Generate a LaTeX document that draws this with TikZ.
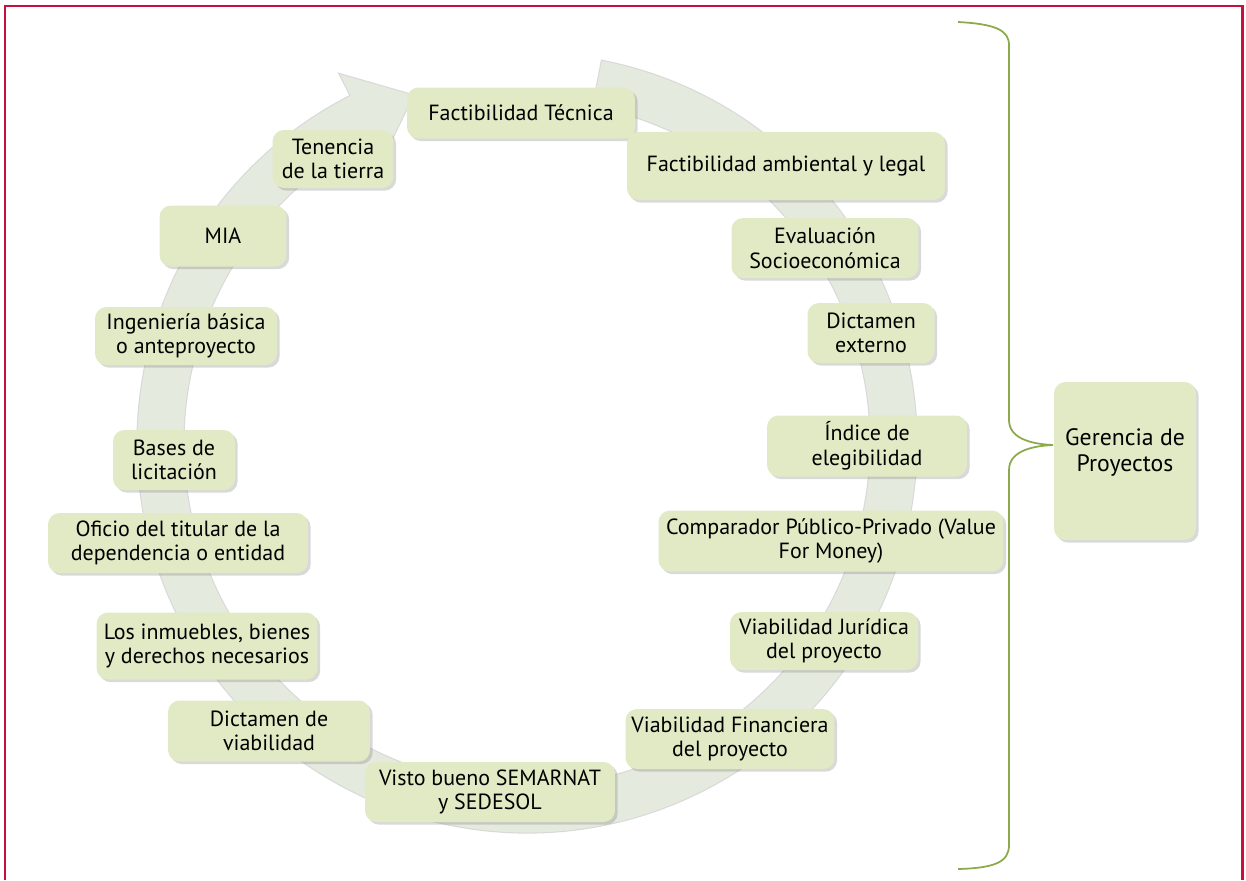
\documentclass[tikz,border=0pt]{standalone}
\usepackage{fontspec}
\setmainfont{PT Sans}
\usetikzlibrary{shadows}
\definecolor{framered}{RGB}{200,16,62}
\definecolor{stagegreen}{RGB}{225,234,196}
\definecolor{ringgray}{RGB}{229,234,222}
\definecolor{bracegreen}{RGB}{140,170,75}

\begin{document}
\begin{tikzpicture}[x=0.02cm, y=-0.02cm,
  stage/.style={rectangle, rounded corners=6.5pt, fill=stagegreen, inner sep=0pt, align=center,
    font=\fontsize{12.5}{14}\selectfont, drop shadow={shadow xshift=1.5pt, shadow yshift=-1.5pt, opacity=0.3}},
  ring/.style={fill=ringgray, draw=gray!30, line width=0.6pt},
  brace/.style={draw=bracegreen, line width=1pt},
  frame/.style={draw=framered, line width=1.7pt}
]
  \useasboundingbox (0,0) rectangle (1246,880);
  \draw[frame] (5,880) -- (5,6) -- (1242,6) -- (1242,880);

  \begin{scope}[shift={(527,443)}, yscale=-1]
    \path[ring] (79:390) arc[start angle=79, end angle=-243, radius=390] -- (-243:415) -- (-252:366)
      -- (-243:318) -- (-243:343) arc[start angle=-243, end angle=79, radius=343] -- cycle;
  \end{scope}

  \node[stage, minimum width=4.56cm, minimum height=1.02cm] (tecnica) at (521,113) {Factibilidad Técnica};
  \node[stage, minimum width=6.36cm, minimum height=1.36cm] (ambiental) at (786,166) {Factibilidad ambiental y legal};
  \node[stage, minimum width=3.74cm, minimum height=1.2cm] (evaluacion) at (825,248) {Evaluación\\Socioeconómica};
  \node[stage, minimum width=2.54cm, minimum height=1.2cm] (externo) at (871,333) {Dictamen\\externo};
  \node[stage, minimum width=4cm, minimum height=1.22cm] (indice) at (867,446) {Índice de\\elegibilidad};
  \node[stage, minimum width=6.9cm, minimum height=1.22cm] (comparador) at (831,541) {Comparador Público-Privado (Value\\For Money)};
  \node[stage, minimum width=3.76cm, minimum height=1.16cm] (juridica) at (824,641) {Viabilidad Jurídica\\del proyecto};
  \node[stage, minimum width=4.18cm, minimum height=1.2cm] (financiera) at (730,739) {Viabilidad Financiera\\del proyecto};
  \node[stage, minimum width=5cm, minimum height=1.2cm] (visto) at (490,792) {Visto bueno SEMARNAT\\y SEDESOL};
  \node[stage, minimum width=4.04cm, minimum height=1.22cm] (viabilidad) at (269,731) {Dictamen de\\viabilidad};
  \node[stage, minimum width=4.42cm, minimum height=1.34cm] (inmuebles) at (207,646) {Los inmuebles, bienes\\y derechos necesarios};
  \node[stage, minimum width=5.2cm, minimum height=1.2cm] (oficio) at (178,543) {Oficio del titular de la\\dependencia o entidad};
  \node[stage, minimum width=2.44cm, minimum height=1.2cm] (bases) at (174,460) {Bases de\\licitación};
  \node[stage, minimum width=3.64cm, minimum height=1.16cm] (ingenieria) at (186,336) {Ingeniería básica\\o anteproyecto};
  \node[stage, minimum width=2.54cm, minimum height=1.22cm] (mia) at (223,236) {MIA};
  \node[stage, minimum width=2.42cm, minimum height=1.16cm] (tenencia) at (333,159) {Tenencia\\de la tierra};
  \node[stage, minimum width=2.84cm, minimum height=3.16cm, font=\fontsize{13.5}{15}\selectfont,
    text depth=0.45cm] (gerencia) at (1125,461) {Gerencia de\\Proyectos};

  \coordinate (bracetop) at (958,22);
  \coordinate (bracetip) at (1053,445);
  \coordinate (bracebot) at (958,869);
  \draw[brace] (bracetop) .. controls (995,24) and (1009,30) .. (1009,45) -- (1009,420)
    .. controls (1009,438) and (1030,444) .. (bracetip)
    .. controls (1030,446) and (1009,452) .. (1009,470) -- (1009,845)
    .. controls (1009,862) and (995,868) .. (bracebot);
\end{tikzpicture}
\end{document}
